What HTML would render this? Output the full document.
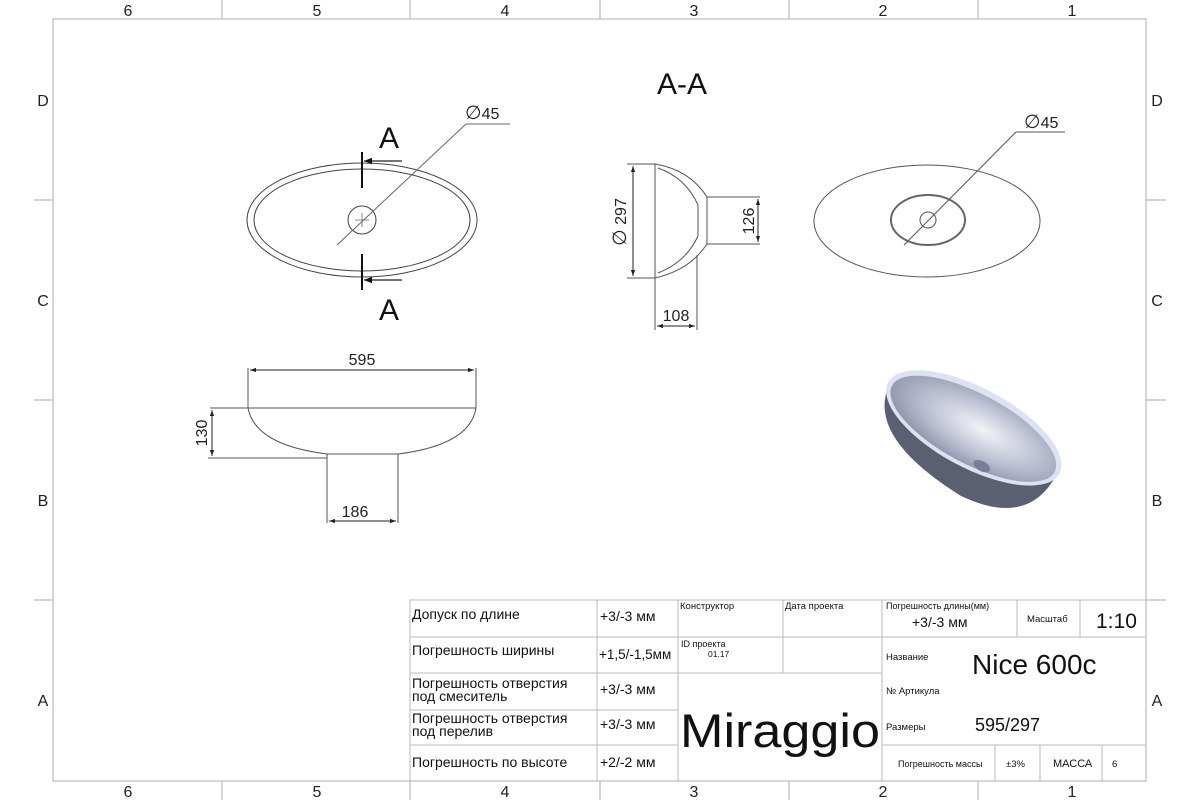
<!DOCTYPE html>
<html><head><meta charset="utf-8"><style>
html,body{margin:0;padding:0;background:#fff;}
svg{display:block;}
text{font-family:"Liberation Sans","DejaVu Sans",sans-serif;}
.t{font-family:"Liberation Sans Narrow","DejaVu Sans Condensed","Liberation Sans",sans-serif;fill:#111;}
</style></head><body>
<svg width="1200" height="800" viewBox="0 0 1200 800" xmlns="http://www.w3.org/2000/svg">
<defs>
<marker id="ar" viewBox="0 0 10 10" refX="10" refY="5" markerWidth="10" markerHeight="6" orient="auto-start-reverse" markerUnits="userSpaceOnUse"><path d="M0,1.5 L10,5 L0,8.5z" fill="#222"/></marker>
<marker id="big" viewBox="0 0 10 10" refX="10" refY="5" markerWidth="18" markerHeight="8" orient="auto" markerUnits="userSpaceOnUse"><path d="M0,1 L10,5 L0,9z" fill="#111"/></marker>
<radialGradient id="bowl" cx="0.55" cy="0.45" r="0.6"><stop offset="0" stop-color="#f2f3f8"/><stop offset="0.6" stop-color="#b9bdd0"/><stop offset="1" stop-color="#8d92aa"/></radialGradient>
</defs>
<g stroke="#bbb" stroke-width="1.2" fill="none">
<rect x="53" y="19" width="1093" height="762"/>
<line x1="222" y1="0" x2="222" y2="19"/><line x1="410" y1="0" x2="410" y2="19"/><line x1="600" y1="0" x2="600" y2="19"/><line x1="789" y1="0" x2="789" y2="19"/><line x1="978" y1="0" x2="978" y2="19"/>
<line x1="222" y1="781" x2="222" y2="800"/><line x1="410" y1="781" x2="410" y2="800"/><line x1="600" y1="781" x2="600" y2="800"/><line x1="789" y1="781" x2="789" y2="800"/><line x1="978" y1="781" x2="978" y2="800"/>
<line x1="34" y1="200" x2="53" y2="200"/><line x1="34" y1="400" x2="53" y2="400"/><line x1="34" y1="600" x2="53" y2="600"/>
<line x1="1146" y1="200" x2="1166" y2="200"/><line x1="1146" y1="400" x2="1166" y2="400"/><line x1="1146" y1="600" x2="1166" y2="600"/>
</g>
<g font-size="16" fill="#222" text-anchor="middle">
<text x="128" y="16">6</text><text x="317" y="16">5</text><text x="505" y="16">4</text><text x="694" y="16">3</text><text x="883" y="16">2</text><text x="1072" y="16">1</text>
<text x="128" y="797">6</text><text x="317" y="797">5</text><text x="505" y="797">4</text><text x="694" y="797">3</text><text x="883" y="797">2</text><text x="1072" y="797">1</text>
<text x="43" y="106">D</text><text x="43" y="306">C</text><text x="43" y="506">B</text><text x="43" y="706">A</text>
<text x="1157" y="106">D</text><text x="1157" y="306">C</text><text x="1157" y="506">B</text><text x="1157" y="706">A</text>
</g>
<text x="682" y="94" font-size="30" text-anchor="middle" fill="#111">A-A</text>

<g fill="none" stroke="#444" stroke-width="1">
<ellipse cx="362" cy="220" rx="115" ry="57"/>
<ellipse cx="362" cy="220" rx="108" ry="51"/>
<circle cx="362" cy="220" r="14"/>
<line x1="355" y1="220" x2="369" y2="220" stroke="#888"/><line x1="362" y1="213" x2="362" y2="227" stroke="#888"/>
<line x1="337" y1="245" x2="466" y2="124" stroke="#666"/><line x1="466" y1="124" x2="510" y2="124" stroke="#666"/>
</g>
<g stroke="#111" stroke-width="2"><line x1="362" y1="152" x2="362" y2="188"/><line x1="362" y1="254" x2="362" y2="290"/></g>
<g stroke="#222" stroke-width="1.2"><line x1="402" y1="161" x2="364" y2="161" marker-end="url(#big)"/><line x1="402" y1="280" x2="364" y2="280" marker-end="url(#big)"/></g>
<text x="389" y="148" font-size="30" text-anchor="middle" fill="#111">A</text>
<text x="389" y="320" font-size="30" text-anchor="middle" fill="#111">A</text>
<text x="465" y="119" font-size="16" fill="#222"><tspan font-size="19">∅</tspan>45</text>

<g fill="none" stroke="#555" stroke-width="1">
<path d="M655,164 L655,278"/>
<path d="M655,164 Q690,170 707,197 L707,244 Q690,270 655,278"/>
<path d="M658,168 Q686,178 698,205 L698,236 Q686,262 658,273"/>
<line x1="707" y1="197" x2="760" y2="197"/><line x1="707" y1="244" x2="760" y2="244"/>
<line x1="627" y1="164" x2="655" y2="164"/><line x1="627" y1="278" x2="655" y2="278"/>
<line x1="655" y1="278" x2="655" y2="330"/><line x1="697" y1="255" x2="697" y2="330"/>
</g>
<g stroke="#222" stroke-width="1"><line x1="633" y1="166" x2="633" y2="276" marker-start="url(#ar)" marker-end="url(#ar)"/>
<line x1="758" y1="199" x2="758" y2="242" marker-start="url(#ar)" marker-end="url(#ar)"/>
<line x1="657" y1="326" x2="695" y2="326" marker-start="url(#ar)" marker-end="url(#ar)"/></g>
<text transform="translate(626,222) rotate(-90)" font-size="16" text-anchor="middle" fill="#222"><tspan font-size="19">∅</tspan> 297</text>
<text transform="translate(754,221) rotate(-90)" font-size="16" text-anchor="middle" fill="#222">126</text>
<text x="676" y="321" font-size="16" text-anchor="middle" fill="#222">108</text>

<g fill="none" stroke="#555" stroke-width="1">
<ellipse cx="927" cy="221" rx="113" ry="56"/>
<ellipse cx="928" cy="220" rx="37" ry="25" stroke-width="2" stroke="#666"/>
<circle cx="928" cy="220" r="8"/>
<line x1="904" y1="245" x2="1016" y2="132"/><line x1="1016" y1="132" x2="1065" y2="132"/>
</g>
<text x="1024" y="128" font-size="16" fill="#222"><tspan font-size="19">∅</tspan>45</text>

<g fill="none" stroke="#555" stroke-width="1">
<line x1="248" y1="368" x2="248" y2="408"/><line x1="476" y1="368" x2="476" y2="408"/>
<line x1="248" y1="408" x2="476" y2="408"/>
<path d="M248,408 Q255,445 327,454 L398,454 Q470,445 476,408"/>
<line x1="327" y1="454" x2="327" y2="523"/><line x1="398" y1="454" x2="398" y2="523"/>
<line x1="208" y1="458" x2="327" y2="458"/><line x1="210" y1="408" x2="248" y2="408"/>
</g>
<g stroke="#222" stroke-width="1"><line x1="250" y1="370" x2="474" y2="370" marker-start="url(#ar)" marker-end="url(#ar)"/>
<line x1="212" y1="410" x2="212" y2="456" marker-start="url(#ar)" marker-end="url(#ar)"/>
<line x1="329" y1="521" x2="396" y2="521" marker-start="url(#ar)" marker-end="url(#ar)"/></g>
<text x="362" y="365" font-size="16" text-anchor="middle" fill="#222">595</text>
<text transform="translate(207,433) rotate(-90)" font-size="16" text-anchor="middle" fill="#222">130</text>
<text x="355" y="517" font-size="16" text-anchor="middle" fill="#222">186</text>

<g transform="translate(970,435) rotate(28)">
<path d="M-95,-10 Q-95,50 20,58 Q95,55 95,-5 Z" fill="#5a5f72"/>
<ellipse cx="0" cy="-8" rx="97" ry="40" fill="#dde2f0"/>
<ellipse cx="0" cy="-7" rx="92" ry="35" fill="url(#bowl)"/>
<ellipse cx="25" cy="22" rx="9" ry="5" fill="#7a7f95"/>
</g>

<g stroke="#bbb" stroke-width="1" fill="none">
<rect x="410" y="600" width="736" height="181"/>
<line x1="410" y1="637" x2="678" y2="637"/><line x1="410" y1="673" x2="678" y2="673"/><line x1="410" y1="710" x2="678" y2="710"/><line x1="410" y1="745" x2="678" y2="745"/>
<line x1="597" y1="600" x2="597" y2="781"/><line x1="678" y1="600" x2="678" y2="781"/><line x1="882" y1="600" x2="882" y2="781"/>
<line x1="678" y1="637" x2="882" y2="637"/><line x1="678" y1="673" x2="882" y2="673"/><line x1="783" y1="600" x2="783" y2="673"/>
<line x1="882" y1="637" x2="1146" y2="637"/><line x1="882" y1="745" x2="1146" y2="745"/>
<line x1="1017" y1="600" x2="1017" y2="637"/><line x1="1080" y1="600" x2="1080" y2="637"/>
<line x1="995" y1="745" x2="995" y2="781"/><line x1="1040" y1="745" x2="1040" y2="781"/><line x1="1102" y1="745" x2="1102" y2="781"/>
<line x1="1146" y1="600" x2="1166" y2="600"/>
</g>
<g class="t" font-size="14">
<text x="412" y="619">Допуск по длине</text>
<text x="412" y="655">Погрешность ширины</text>
<text x="412" y="688">Погрешность отверстия</text><text x="412" y="701">под смеситель</text>
<text x="412" y="723">Погрешность отверстия</text><text x="412" y="736">под перелив</text>
<text x="412" y="767">Погрешность по высоте</text>
<text x="600" y="621">+3/-3 мм</text>
<text x="599" y="659" font-size="13.5">+1,5/-1,5мм</text>
<text x="600" y="694">+3/-3 мм</text>
<text x="600" y="729">+3/-3 мм</text>
<text x="600" y="767">+2/-2 мм</text>
<text x="680" y="609" font-size="9.5">Конструктор</text>
<text x="785" y="609" font-size="9.5">Дата проекта</text>
<text x="681" y="647" font-size="9">ID проекта</text><text x="708" y="657" font-size="8.5">01.17</text>
<text transform="translate(680,747) scale(1,1.25)" font-size="38" textLength="200" lengthAdjust="spacingAndGlyphs">Miraggio</text>
<text x="886" y="609" font-size="9">Погрешность длины(мм)</text>
<text x="912" y="627" font-size="14">+3/-3 мм</text>
<text x="1027" y="622" font-size="9.5">Масштаб</text>
<text x="1096" y="628" font-size="21">1:10</text>
<text x="886" y="660" font-size="9.5">Название</text>
<text x="972" y="674" font-size="28">Nice 600c</text>
<text x="886" y="694" font-size="9.5">№ Артикула</text>
<text x="886" y="730" font-size="9.5">Размеры</text>
<text x="975" y="731" font-size="18">595/297</text>
<text x="898" y="767" font-size="9">Погрешность массы</text>
<text x="1006" y="767" font-size="9.5">±3%</text>
<text x="1053" y="767" font-size="11">МАССА</text>
<text x="1112" y="767" font-size="9.5">6</text>
</g>
</svg>
</body></html>
